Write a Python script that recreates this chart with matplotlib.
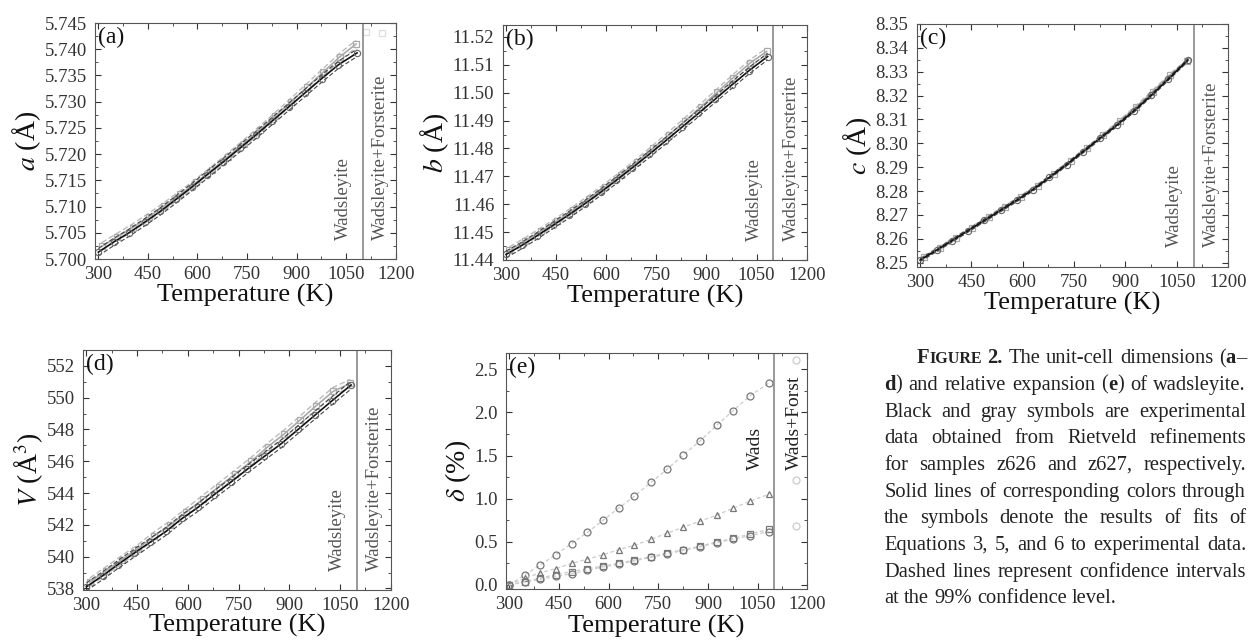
import matplotlib
matplotlib.use('Agg')
import matplotlib.pyplot as plt
from matplotlib.ticker import MultipleLocator, AutoMinorLocator, FormatStrFormatter

plt.rcParams['font.family'] = ['Liberation Serif', 'DejaVu Serif']
plt.rcParams['mathtext.fontset'] = 'stix'

# temperatures (K) of the two samples
T626 = [300, 348, 393, 440, 488, 536, 583, 630, 678, 728, 776, 826, 876, 926, 976, 1026, 1083]
T627 = [310, 357, 404, 452, 500, 548, 596, 644, 692, 740, 788, 836, 884, 932, 980, 1030, 1080]

# unit-cell parameters, z626 (black) and z627 (gray)
a626 = [5.7013, 5.7033, 5.7050, 5.7070, 5.7091, 5.7114, 5.7137, 5.7161, 5.7185,
        5.7211, 5.7236, 5.7263, 5.7290, 5.7317, 5.7344, 5.7370, 5.7393]
a627 = [5.7024, 5.7042, 5.7060, 5.7080, 5.7101, 5.7123, 5.7146, 5.7170, 5.7195,
        5.7220, 5.7246, 5.7273, 5.7300, 5.7328, 5.7356, 5.7385, 5.7410]
b626 = [11.4420, 11.4453, 11.4487, 11.4524, 11.4562, 11.4602, 11.4643, 11.4686, 11.4731,
        11.4779, 11.4826, 11.4876, 11.4926, 11.4977, 11.5028, 11.5078, 11.5130]
b627 = [11.4435, 11.4468, 11.4503, 11.4540, 11.4579, 11.4620, 11.4662, 11.4706, 11.4752,
        11.4800, 11.4849, 11.4899, 11.4950, 11.5002, 11.5054, 11.5106, 11.5148]
c626 = [8.2511, 8.2552, 8.2592, 8.2634, 8.2677, 8.2720, 8.2762, 8.2806, 8.2857,
        8.2911, 8.2965, 8.3021, 8.3077, 8.3137, 8.3201, 8.3270, 8.3349]
c627 = [8.2522, 8.2561, 8.2603, 8.2646, 8.2690, 8.2733, 8.2777, 8.2823, 8.2873,
        8.2925, 8.2979, 8.3035, 8.3093, 8.3153, 8.3217, 8.3285, 8.3345]
V626 = [538.1, 538.8, 539.5, 540.2, 540.9, 541.6, 542.4, 543.1, 543.9,
        544.7, 545.5, 546.3, 547.1, 548.0, 548.9, 549.8, 550.8]
V627 = [538.4, 539.1, 539.8, 540.5, 541.3, 542.0, 542.8, 543.6, 544.4,
        545.2, 546.0, 546.9, 547.7, 548.6, 549.5, 550.4, 550.9]

# half-width of the 99% confidence bands
ci = {'a': 0.0007, 'b': 0.0012, 'c': 0.0006, 'V': 0.25}

# faint points above the transition (wadsleyite + forsterite)
T_hi = [1110, 1160]
a_hi = [5.7432, 5.7430]

# relative expansion delta (%)
dV = [0.0, 0.12, 0.23, 0.35, 0.48, 0.61, 0.75, 0.89, 1.03, 1.19, 1.34, 1.51, 1.67, 1.85, 2.02, 2.19, 2.34]
dc = [0.0, 0.08, 0.14, 0.19, 0.25, 0.30, 0.35, 0.41, 0.46, 0.53, 0.60, 0.67, 0.74, 0.81, 0.89, 0.97, 1.05]
da = [0.0, 0.04, 0.08, 0.12, 0.155, 0.19, 0.22, 0.25, 0.29, 0.33, 0.37, 0.41, 0.45, 0.50, 0.54, 0.59, 0.645]
db = [0.0, 0.035, 0.065, 0.10, 0.13, 0.17, 0.21, 0.24, 0.28, 0.32, 0.36, 0.40, 0.44, 0.49, 0.53, 0.57, 0.62]
Te_hi = [1165, 1165, 1165]
de_hi = [2.61, 1.22, 0.68]

T_tr = 1100
xticks = [300, 450, 600, 750, 900, 1050, 1200]

W, H = 1249, 641
fig = plt.figure(figsize=(W / 100, H / 100), dpi=100)

def box(l, t, r, b):
    return [l / W, 1 - b / H, (r - l) / W, (b - t) / H]

def style(ax, ylo, yhi, ystep, fmt, ylabel, letter, xpad=1):
    ax.set_xlim(290, 1200)
    ax.set_ylim(ylo, yhi)
    ax.set_xticks(xticks)
    ax.xaxis.set_minor_locator(AutoMinorLocator(2))
    ax.yaxis.set_major_locator(MultipleLocator(ystep))
    ax.yaxis.set_minor_locator(AutoMinorLocator(2))
    ax.yaxis.set_major_formatter(FormatStrFormatter(fmt))
    ax.tick_params(which='both', direction='in', top=True, right=True,
                   labelsize=13.5, colors='#333')
    ax.tick_params(axis='x', which='both', pad=5)
    ax.tick_params(axis='y', which='both', pad=6)
    ax.tick_params(which='major', length=4)
    ax.tick_params(which='minor', length=2)
    for s in ax.spines.values():
        s.set_color('#555')
    ax.set_xlabel('Temperature (K)', fontsize=19, labelpad=xpad, color='#111')
    ax.set_ylabel(ylabel, fontsize=20, labelpad=1, color='#111')
    ax.text(0.01, 0.985, letter, transform=ax.transAxes, ha='left', va='top',
            fontsize=17, color='#111')
    ax.axvline(T_tr, color='#888', lw=1.2)

def phase_labels(ax, yb, short=False):
    if short:
        ax.text(1045, yb, 'Wads', rotation=90, ha='center', va='bottom',
                fontsize=14, color='#222', transform=ax.get_xaxis_transform())
        ax.text(1160, yb, 'Wads+Forst', rotation=90, ha='center', va='bottom',
                fontsize=14, color='#222', transform=ax.get_xaxis_transform())
    else:
        ax.text(1043, yb, 'Wadsleyite', rotation=90, ha='center', va='bottom',
                fontsize=13.5, color='#555', transform=ax.get_xaxis_transform())
        ax.text(1153, yb, 'Wadsleyite+Forsterite', rotation=90, ha='center',
                va='bottom', fontsize=13.5, color='#555',
                transform=ax.get_xaxis_transform())

def cell_panel(ax, y626, y627, hw):
    lo6 = [v - hw for v in y626]
    hi6 = [v + hw for v in y626]
    lo7 = [v - hw for v in y627]
    hi7 = [v + hw for v in y627]
    ax.plot(T627, hi7, '--', color='#bbb', lw=1.0, dashes=(4, 2))
    ax.plot(T627, lo7, '--', color='#bbb', lw=1.0, dashes=(4, 2))
    ax.plot(T627, y627, '-', color='#aaa', lw=1.2, marker='s', ms=4.5,
            mfc='none', mec='#aaa', mew=0.9)
    ax.plot(T626, hi6, '--', color='#444', lw=0.8, dashes=(4, 2))
    ax.plot(T626, lo6, '--', color='#444', lw=0.8, dashes=(4, 2))
    ax.plot(T626, y626, '-', color='#111', lw=1.2, marker='o', ms=4.5,
            mfc='none', mec='#666', mew=0.8)

ax_a = fig.add_axes(box(95, 23, 395.7, 259))
cell_panel(ax_a, a626, a627, ci['a'])
ax_a.plot(T_hi, a_hi, 's', ms=4.5, mfc='none', mec='#ddd', mew=0.9)
style(ax_a, 5.700, 5.745, 0.005, '%.3f', '$a$ (Å)', '(a)')
phase_labels(ax_a, 0.08)

ax_b = fig.add_axes(box(502.7, 25, 806.7, 260))
cell_panel(ax_b, b626, b627, ci['b'])
style(ax_b, 11.44, 11.5243, 0.01, '%.2f', '$b$ (Å)', '(b)')
phase_labels(ax_b, 0.08)

ax_c = fig.add_axes(box(916.7, 24, 1228, 266.7))
cell_panel(ax_c, c626, c627, ci['c'])
style(ax_c, 8.2483, 8.35, 0.01, '%.2f', '$c$ (Å)', '(c)')
phase_labels(ax_c, 0.08)

ax_d = fig.add_axes(box(83, 350, 390.7, 590))
cell_panel(ax_d, V626, V627, ci['V'])
style(ax_d, 537.9, 553.0, 2, '%d', '$V$ (Å$^3$)', '(d)', xpad=0)
phase_labels(ax_d, 0.08)

ax_e = fig.add_axes(box(506, 353.3, 807.3, 589.3))
for ys, mk in [(dV, 'o'), (dc, '^'), (da, 's'), (db, 'o')]:
    ax_e.plot(T626, ys, '--', color='#ccc', lw=0.9, dashes=(3, 2), marker=mk,
              ms=5, mfc='none', mec='#777', mew=0.9)
ax_e.plot(Te_hi, de_hi, 'o', ms=5, mfc='none', mec='#ccc', mew=0.9)
style(ax_e, -0.05, 2.686, 0.5, '%.1f', r'$\delta$ (%)', '(e)')
phase_labels(ax_e, 0.505, short=True)

# caption, justified line by line
renderer = fig.canvas.get_renderer()

cap_lines = [
    [[('F', 'B'), ('IGURE', 'SC')], [('2.', 'B')], [('The', 'N')], [('unit-cell', 'N')],
     [('dimensions', 'N')], [('(', 'N'), ('a', 'B'), ('–', 'N')]],
    [[('d', 'B'), (')', 'N')], [('and', 'N')], [('relative', 'N')], [('expansion', 'N')],
     [('(', 'N'), ('e', 'B'), (')', 'N')], [('of', 'N')], [('wadsleyite.', 'N')]],
    'Black and gray symbols are experimental',
    'data obtained from Rietveld refinements',
    'for samples z626 and z627, respectively.',
    'Solid lines of corresponding colors through',
    'the symbols denote the results of fits of',
    'Equations 3, 5, and 6 to experimental data.',
    'Dashed lines represent confidence intervals',
    'at the 99% confidence level.',
]

def width(s, p):
    t = fig.text(0, 0, s, **p)
    w = t.get_window_extent(renderer).width
    t.remove()
    return w

# font size chosen so that the tightest line fills the column with normal spaces
w14 = width('Solid lines of corresponding colors through', {'fontsize': 14})
fs = 14 * 358 / w14
P = {'N': {'fontsize': fs, 'color': '#222'},
     'B': {'fontsize': fs, 'color': '#222', 'fontweight': 'bold'},
     'SC': {'fontsize': fs * 0.78, 'color': '#222', 'fontweight': 'bold'}}

space = width('a a', P['N']) - width('aa', P['N'])
x_right = 1246
for i, line in enumerate(cap_lines):
    if isinstance(line, str):
        line = [[(w, 'N')] for w in line.split(' ')]
    x0 = 916.7 if i == 0 else 884.3
    y = 363.3 + i * 26.67
    widths = [sum(width(s, P[k]) for s, k in word) for word in line]
    last = i == len(cap_lines) - 1
    gap = space if last else (x_right - x0 - sum(widths)) / (len(line) - 1)
    gap = max(gap, 0.6 * space)
    x = x0
    for word, ww in zip(line, widths):
        xx = x
        for s, k in word:
            fig.text(xx / W, 1 - y / H, s, ha='left', va='baseline', **P[k])
            xx += width(s, P[k])
        x += ww + gap

fig.savefig('out.png', dpi=100, facecolor='white')
